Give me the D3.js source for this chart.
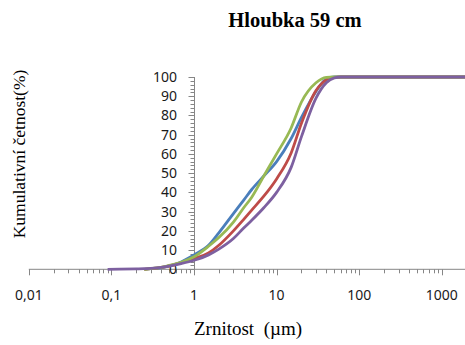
<!DOCTYPE html>
<html>
<head>
<meta charset="utf-8">
<script src="https://cdn.jsdelivr.net/npm/d3@7"></script>
<style>
  body { margin: 0; background: #fff; }
  svg { display: block; }
</style>
</head>
<body>
<div id="chart"></div>
<script>
/* ── Data ─────────────────────────────────────────────────────── */

const sizes = [0.09, 0.2, 0.25, 0.3, 0.4, 0.5, 0.7, 1, 1.5, 2, 3, 4, 5, 7, 10, 15, 20, 30, 40, 50, 60, 2000];

const blueValues   = [null, null, 0, 0.3, 0.8, 1.6, 3.8, 7.5, 12.5, 19, 29, 36, 41.5, 48.5, 56, 68, 79, 92.5, 99, 100, 100, 100];
const redValues    = [null, null, 0, 0.3, 1, 1.8, 3.3, 5.5, 8.5, 12.5, 20, 26, 30.8, 38, 47, 60.5, 76, 93, 98.5, 99.8, 100, 100];
const greenValues  = [null, null, 0, 0.4, 1, 2, 3.6, 6.5, 12, 16.5, 24.5, 32, 37.5, 48.5, 60, 73.5, 87, 97, 99.8, 100, 100, 100];
const purpleValues = [0, 0.2, 0.3, 0.5, 1, 1.7, 3, 4.7, 7.5, 10.5, 16, 21.5, 25.5, 32, 40, 53, 69, 89, 97, 99.5, 100, 100];

const series = [
  { name: 'blue',   values: blueValues,   color: '#4a7ebb' },
  { name: 'red',    values: redValues,    color: '#be4b48' },
  { name: 'green',  values: greenValues,  color: '#98b954' },
  { name: 'purple', values: purpleValues, color: '#7d60a0' },
];

const xTickValues = [0.01, 0.1, 1, 10, 100, 1000];
const xTickLabels = ['0,01', '0,1', '1', '10', '100', '1000'];
const yTickValues = [0, 10, 20, 30, 40, 50, 60, 70, 80, 90, 100];

const titleText = 'Hloubka 59 cm';
const xTitleText = 'Zrnitost  (\u00b5m)';
const yTitleText = 'Kumulativní četnost(%)';

/* ── Layout ───────────────────────────────────────────────────── */

const width = 465;
const height = 345;
const axisColor = '#868686';
const tickFont = '"Noto Sans", sans-serif';
const serifFont = '"Liberation Serif", "Times New Roman", serif';

const x = d3.scaleLog()
  .domain([0.01, 2000])
  .range([28.8, 28.8 + 82.6 * Math.log10(200000)]);

const y = d3.scaleLinear()
  .domain([0, 100])
  .range([269.3, 77]);

const svg = d3.select('#chart')
  .append('svg')
  .attr('width', width)
  .attr('height', height);

/* ── Axes ─────────────────────────────────────────────────────── */

// X axis: minor log ticks + decade ticks
const xMinor = [];
for (let e = -2; e <= 3; e++) {
  for (let m = 2; m <= 9; m++) xMinor.push(m * Math.pow(10, e));
}

const xAxisG = svg.append('g')
  .attr('transform', `translate(0,${y(0)})`);

xAxisG.append('line')
  .attr('x1', x(0.01)).attr('x2', width)
  .attr('stroke', axisColor).attr('stroke-width', 1);

xAxisG.selectAll('line.minor')
  .data(xMinor.filter(v => x(v) <= width))
  .join('line')
  .attr('class', 'minor')
  .attr('x1', d => Math.round(x(d)) + 0.5)
  .attr('x2', d => Math.round(x(d)) + 0.5)
  .attr('y1', 0).attr('y2', 4)
  .attr('stroke', axisColor);

xAxisG.selectAll('line.major')
  .data(xTickValues)
  .join('line')
  .attr('class', 'major')
  .attr('x1', d => Math.round(x(d)) + 0.5)
  .attr('x2', d => Math.round(x(d)) + 0.5)
  .attr('y1', 0).attr('y2', 6)
  .attr('stroke', axisColor);

xAxisG.selectAll('text')
  .data(xTickValues)
  .join('text')
  .attr('x', d => x(d))
  .attr('y', 31)
  .attr('text-anchor', 'middle')
  .attr('font-family', tickFont)
  .attr('font-size', 14)
  .attr('fill', '#1a1a1a')
  .text((d, i) => xTickLabels[i]);

// Y axis crosses at x = 1
const yAxisX = Math.round(x(1)) + 0.5;
const yAxisG = svg.append('g');

yAxisG.append('line')
  .attr('x1', yAxisX).attr('x2', yAxisX)
  .attr('y1', y(100)).attr('y2', y(0))
  .attr('stroke', axisColor);

yAxisG.selectAll('line.minor')
  .data(d3.range(0, 101, 2))
  .join('line')
  .attr('class', 'minor')
  .attr('x1', yAxisX - 4).attr('x2', yAxisX)
  .attr('y1', d => Math.round(y(d)) + 0.5)
  .attr('y2', d => Math.round(y(d)) + 0.5)
  .attr('stroke', axisColor);

yAxisG.selectAll('line.major')
  .data(yTickValues)
  .join('line')
  .attr('class', 'major')
  .attr('x1', yAxisX - 6).attr('x2', yAxisX)
  .attr('y1', d => Math.round(y(d)) + 0.5)
  .attr('y2', d => Math.round(y(d)) + 0.5)
  .attr('stroke', axisColor);

/* ── Lines ────────────────────────────────────────────────────── */

const line = d3.line()
  .defined(d => d[1] != null)
  .x(d => x(d[0]))
  .y(d => y(d[1]))
  .curve(d3.curveMonotoneX);

svg.append('g')
  .selectAll('path')
  .data(series)
  .join('path')
  .attr('d', s => line(sizes.map((v, i) => [v, s.values[i]])))
  .attr('fill', 'none')
  .attr('stroke', s => s.color)
  .attr('stroke-width', 2.8)
  .attr('stroke-linejoin', 'round');

// Y tick labels drawn over lines (as in the original, "0" sits on top)
yAxisG.selectAll('text')
  .data(yTickValues)
  .join('text')
  .attr('x', 177)
  .attr('y', d => y(d) + 5)
  .attr('text-anchor', 'end')
  .attr('font-family', tickFont)
  .attr('font-size', 14)
  .attr('fill', '#1a1a1a')
  .text(d => d);

/* ── Titles ───────────────────────────────────────────────────── */

svg.append('text')
  .attr('x', 295)
  .attr('y', 27)
  .attr('text-anchor', 'middle')
  .attr('font-family', serifFont)
  .attr('font-weight', 'bold')
  .attr('font-size', 20.5)
  .attr('fill', '#000')
  .text(titleText);

svg.append('text')
  .attr('x', 248)
  .attr('y', 335)
  .attr('text-anchor', 'middle')
  .attr('font-family', serifFont)
  .attr('font-size', 19)
  .attr('fill', '#000')
  .attr('xml:space', 'preserve')
  .style('white-space', 'pre')
  .text(xTitleText);

svg.append('text')
  .attr('transform', 'translate(25,154) rotate(-90)')
  .attr('text-anchor', 'middle')
  .attr('font-family', serifFont)
  .attr('font-size', 17.5)
  .attr('fill', '#000')
  .text(yTitleText);
</script>
</body>
</html>
